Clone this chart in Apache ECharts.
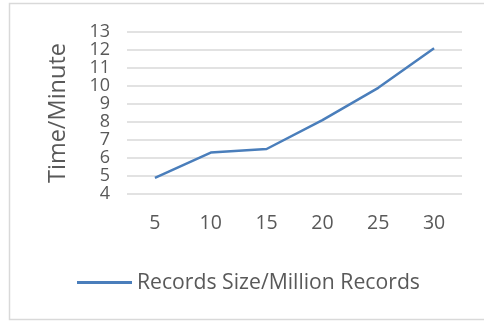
<!DOCTYPE html>
<html>
<head>
<meta charset="utf-8">
<script src="https://cdn.jsdelivr.net/npm/echarts@6/dist/echarts.min.js"></script>
<style>
  html, body { margin: 0; padding: 0; background: #fff; }
  #chart { width: 484px; height: 322px; }
</style>
</head>
<body>
<div id="chart"></div>
<script>
// Dataset: processing time by record count
const recordSizes = ['5', '10', '15', '20', '25', '30'];
const timeMinutes = [4.9, 6.3, 6.5, 8.1, 9.9, 12.1];
const seriesName = 'Records Size/Million Records';
const yAxisTitle = 'Time/Minute';

const textColor = '#595959';
const fontFamily = '"Open Sans", "Noto Sans", sans-serif';

const chart = echarts.init(document.getElementById('chart'), null, { renderer: 'canvas' });
chart.setOption({
  animation: false,
  backgroundColor: '#fff',
  graphic: [{
    type: 'rect',
    shape: { x: 9.5, y: 3.5, width: 480, height: 316 },
    style: { fill: 'none', stroke: '#d9d9d9', lineWidth: 1.5 },
    silent: true
  }],
  grid: { left: 127, right: 22, top: 32, bottom: 128 },
  legend: {
    data: [seriesName],
    left: 72, top: 267,
    itemWidth: 55, itemHeight: 3,
    itemGap: 8,
    icon: 'rect',
    textStyle: { color: textColor, fontSize: 21.2, fontFamily: fontFamily }
  },
  xAxis: {
    type: 'category',
    data: recordSizes,
    boundaryGap: true,
    axisLine: { show: false },
    axisTick: { show: false },
    axisLabel: { color: textColor, fontSize: 19.5, fontFamily: fontFamily, margin: 19 }
  },
  yAxis: {
    type: 'value',
    min: 4, max: 13, interval: 1,
    name: yAxisTitle,
    nameLocation: 'middle',
    nameGap: 57,
    nameRotate: 90,
    nameTextStyle: { color: textColor, fontSize: 23.5, fontFamily: fontFamily },
    axisLine: { show: false },
    axisTick: { show: false },
    axisLabel: {
      color: textColor, fontSize: 18, fontFamily: fontFamily, margin: 17,
      showMinLabel: true, showMaxLabel: true
    },
    splitLine: { lineStyle: { color: '#d9d9d9', width: 1.5 } }
  },
  series: [{
    name: seriesName,
    type: 'line',
    data: timeMinutes,
    symbol: 'none',
    lineStyle: { color: '#4a7ebb', width: 2.5 },
    itemStyle: { color: '#4a7ebb' }
  }]
});
</script>
</body>
</html>
